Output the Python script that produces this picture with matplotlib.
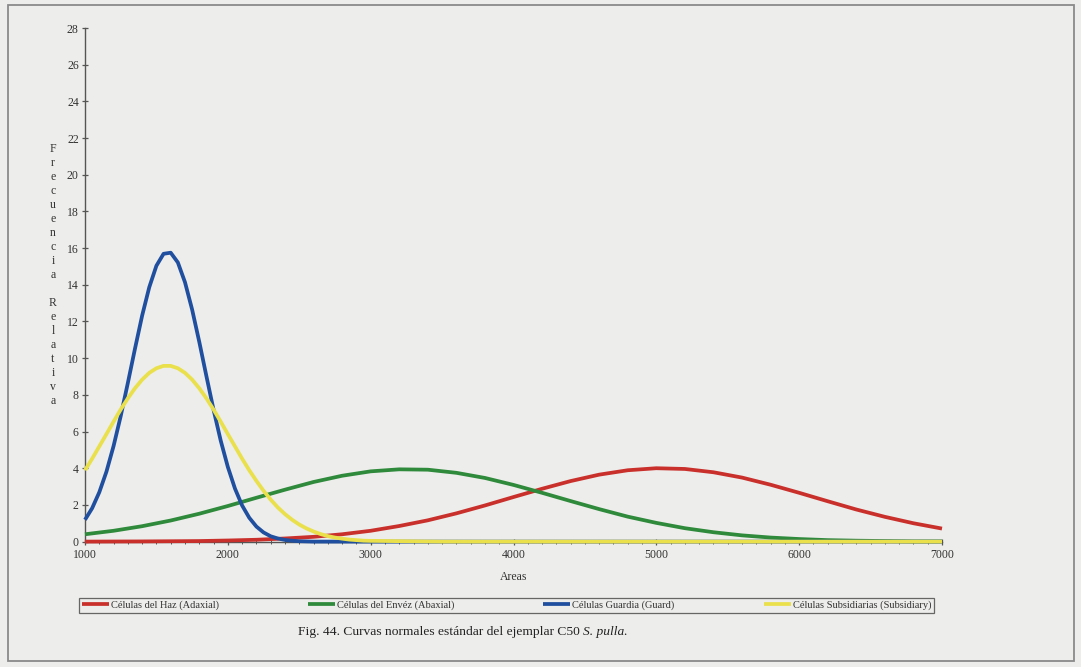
import matplotlib
matplotlib.use('Agg')
import matplotlib.pyplot as plt
from matplotlib.patches import Rectangle
from matplotlib.ticker import MultipleLocator

plt.rcParams['font.family'] = ['Liberation Serif', 'DejaVu Serif']

# ---------------- data ----------------
series_names = ["Células del Haz (Adaxial)", "Células del Envéz (Abaxial)",
                "Células Guardia (Guard)", "Células Subsidiarias (Subsidiary)"]

x_broad = list(range(1000, 7001, 200))
haz = [0.00, 0.005, 0.01, 0.02, 0.03, 0.06, 0.10, 0.17, 0.26, 0.40, 0.59,
       0.85, 1.16, 1.54, 1.97, 2.43, 2.88, 3.30, 3.65, 3.89, 4.00, 3.96,
       3.78, 3.49, 3.10, 2.66, 2.20, 1.75, 1.35, 1.00, 0.71]
enves = [0.40, 0.59, 0.84, 1.15, 1.52, 1.94, 2.39, 2.83, 3.25, 3.59, 3.83,
         3.94, 3.92, 3.75, 3.47, 3.09, 2.66, 2.21, 1.77, 1.36, 1.02, 0.73,
         0.51, 0.34, 0.22, 0.14, 0.08, 0.05, 0.03, 0.01, 0.01]

x_narrow = list(range(1000, 3001, 50)) + list(range(3500, 7001, 500))
guardia = [1.19, 1.82, 2.69, 3.81, 5.21, 6.84, 8.65, 10.52, 12.32, 13.87,
           15.04, 15.69, 15.75, 15.22, 14.14, 12.65, 10.89, 9.02, 7.19, 5.51,
           4.07, 2.89, 1.97, 1.30, 0.82, 0.50, 0.29, 0.17, 0.09, 0.05, 0.02,
           0.01, 0, 0, 0, 0, 0, 0, 0, 0, 0,
           0, 0, 0, 0, 0, 0, 0, 0]
subsid = [3.89, 4.52, 5.19, 5.86, 6.54, 7.20, 7.81, 8.36, 8.83, 9.20, 9.45,
          9.58, 9.58, 9.45, 9.20, 8.83, 8.36, 7.81, 7.20, 6.54, 5.86, 5.19,
          4.52, 3.89, 3.31, 2.77, 2.29, 1.86, 1.50, 1.19, 0.93, 0.72, 0.55,
          0.41, 0.30, 0.22, 0.16, 0.11, 0.08, 0.05, 0.04,
          0, 0, 0, 0, 0, 0, 0, 0]

x_ticks = [1000, 2000, 3000, 4000, 5000, 6000, 7000]
y_ticks = list(range(0, 29, 2))

colors = ['#c9302c', '#2f8a3c', '#1f4f9e', '#e9e04c']
paper = '#ededeb'

# ---------------- figure ----------------
fig = plt.figure(figsize=(10.81, 6.67), dpi=100, facecolor=paper)
W, H = 1081, 667

ax = fig.add_axes([85 / W, 1 - 541.6 / H, (942 - 85) / W, (541.6 - 28) / H])
ax.set_facecolor(paper)

lines = []
for xs, ys, c, name in [(x_broad, haz, colors[0], series_names[0]),
                        (x_broad, enves, colors[1], series_names[1]),
                        (x_narrow, guardia, colors[2], series_names[2]),
                        (x_narrow, subsid, colors[3], series_names[3])]:
    ln, = ax.plot(xs, ys, color=c, lw=2.7, label=name, clip_on=False,
                  solid_capstyle='butt', solid_joinstyle='round', zorder=3)
    lines.append(ln)

ax.set_xlim(1000, 7000)
ax.set_ylim(0, 28)
ax.set_xticks(x_ticks)
ax.xaxis.set_minor_locator(MultipleLocator(100))
ax.set_yticks(y_ticks)

for s in ['top', 'right']:
    ax.spines[s].set_visible(False)
for s in ['left', 'bottom']:
    ax.spines[s].set_color('#555555')
    ax.spines[s].set_linewidth(1.0)

ax.tick_params(axis='both', which='major', direction='inout', length=5,
               width=0.9, color='#555555', labelsize=8.5, labelcolor='#333333')
ax.tick_params(axis='x', which='minor', direction='inout', length=3,
               width=0.7, color='#555555')
ax.tick_params(axis='y', pad=2)
ax.tick_params(axis='x', pad=3)

ax.set_xlabel('Areas', fontsize=8.5, color='#333333', labelpad=7)

# vertical stacked y label
ylab = '\n'.join(list('Frecuencia Relativa'))
fig.text(53 / W, 1 - 275 / H, ylab, fontsize=8.5, color='#333333',
         ha='center', va='center', linespacing=1.22)

# legend
leg = fig.legend(handles=lines, loc='center', ncol=4, mode='expand',
                 bbox_to_anchor=(74 / W, 1 - 614 / H, (939 - 74) / W, 17 / H),
                 fontsize=7.5, frameon=True, fancybox=False, handlelength=2.6,
                 handletextpad=0.2, borderpad=0.25, columnspacing=0.5)
leg.get_frame().set_edgecolor('#444444')
leg.get_frame().set_linewidth(0.9)
leg.get_frame().set_facecolor(paper)
for t in leg.get_texts():
    t.set_color('#333333')

# caption with italic species name
fig.canvas.draw()
renderer = fig.canvas.get_renderer()
cap_y = 1 - 632 / H
t1 = fig.text(298 / W, cap_y, 'Fig. 44. Curvas normales estándar del ejemplar C50',
              fontsize=9.7, color='#222222', ha='left', va='center')
bb = t1.get_window_extent(renderer=renderer)
fig.text((bb.x1 + 3.5) / W, cap_y, 'S. pulla.', fontsize=9.7, style='italic',
         color='#222222', ha='left', va='center')

# outer border of the scanned figure
fig.patches.append(Rectangle((8 / W, 1 - 661 / H), (1074 - 8) / W, (661 - 5) / H,
                             transform=fig.transFigure, fill=False,
                             edgecolor='#8a8a8a', lw=1.3))

fig.savefig('out.png', dpi=100, facecolor=paper)
